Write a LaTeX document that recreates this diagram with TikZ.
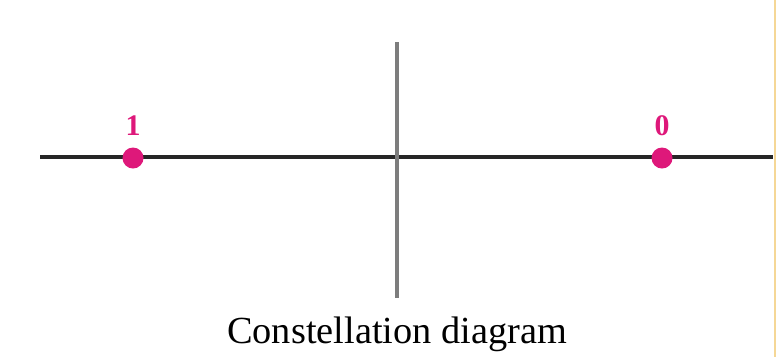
\documentclass[tikz,border=0pt]{standalone}
\usepackage{fontspec}
\setmainfont{Liberation Serif}
\usetikzlibrary{positioning}
\definecolor{dotmagenta}{RGB}{222,24,122}
\definecolor{axisgray}{RGB}{125,125,125}
\definecolor{edgeorange}{RGB}{245,215,150}
\begin{document}
\begin{tikzpicture}[
    x=0.01cm, y=-0.01cm,
    every node/.style={font=\fontsize{10.9}{12}\selectfont},
    pointdot/.style={
        circle,
        fill=dotmagenta,
        inner sep=0pt,
        minimum size=0.21cm
    },
    pointlabel/.style={
        text=dotmagenta,
        font=\fontsize{8.5}{9}\selectfont\bfseries,
        inner sep=1pt
    },
    axis/.style={line width=0.9pt}
]
    \useasboundingbox (0,0) rectangle (777,357);

    % Axes
    \coordinate (west) at (40,157);
    \coordinate (east) at (773,157);
    \coordinate (north) at (397,42);
    \coordinate (south) at (397,298);

    \draw[axis, black!85] (west) -- (east);
    \draw[axis, axisgray, line width=1.3pt] (north) -- (south);

    % Signal points
    \node[pointdot] (one) at (133,158) {};
    \node[pointdot] (zero) at (662,158) {};

    \node[pointlabel, above=0.07cm of one] (onelabel) {1};
    \node[pointlabel, above=0.07cm of zero] (zerolabel) {0};

    \node[below=0.06cm of south] (caption) {Constellation diagram};

    % Page edge
    \draw[edgeorange, line width=0.8pt] (775,0) -- (775,357);
\end{tikzpicture}
\end{document}
